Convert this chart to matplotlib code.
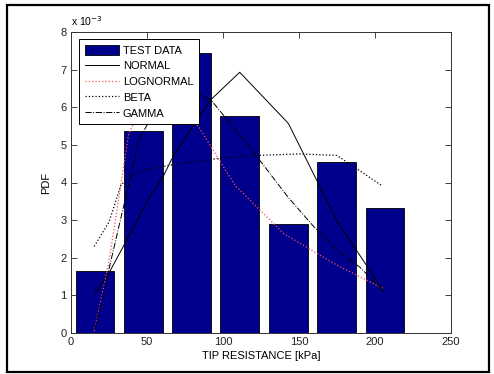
import matplotlib
matplotlib.use("Agg")
import matplotlib.pyplot as plt
from matplotlib.patches import Rectangle
from matplotlib.ticker import MultipleLocator

plt.rcParams['font.family'] = ['Liberation Sans', 'DejaVu Sans']

# Histogram (test data), values in units of 1e-3
bin_centers = [15.8, 47.5, 79.3, 111.1, 142.9, 174.7, 206.5]
test_pdf = [1.65, 5.37, 7.43, 5.78, 2.89, 4.55, 3.31]

# Fitted distributions (values in units of 1e-3)
normal_x = [15.8, 25, 34.4, 50, 61, 66, 80, 92, 111, 143, 175, 206]
normal_y = [1.05, 1.6, 2.3, 3.5, 4.19, 4.6, 5.5, 6.2, 6.93, 5.57, 2.98, 1.09]

lognormal_x = [15.3, 25, 33, 38, 50, 65, 84, 108, 140, 175, 205.5]
lognormal_y = [0.05, 1.9, 4.0, 5.3, 6.3, 6.4, 5.48, 3.92, 2.64, 1.8, 1.18]

beta_x = [15.3, 25, 33, 45, 65, 97, 123, 150, 175, 204]
beta_y = [2.3, 2.95, 3.95, 4.3, 4.46, 4.64, 4.72, 4.76, 4.72, 3.93]

gamma_x = [15.8, 26.3, 34, 45, 60, 75, 92, 120, 143, 159, 175, 190, 205.5]
gamma_y = [0.1, 1.93, 3.26, 5.18, 6.2, 6.5, 6.2, 4.81, 3.6, 2.86, 2.2, 1.75, 1.13]

FS = 8

fig = plt.figure(figsize=(4.94, 3.74), dpi=100)
fig.patches.append(Rectangle((7/494, 2/374), 482/494, 367/374, transform=fig.transFigure,
                             fill=False, edgecolor='black', linewidth=1.6))
ax = fig.add_axes([71/494, 41/374, 380/494, 301/374])

bars = ax.bar(bin_centers, test_pdf, width=25.5, color='#00008C', edgecolor='black',
              linewidth=0.6, zorder=2)
l1, = ax.plot(normal_x, normal_y, '-', color='black', lw=0.7, zorder=3)
l2, = ax.plot(lognormal_x, lognormal_y, ':', color='#FF5050', lw=0.9, zorder=3)
l3, = ax.plot(beta_x, beta_y, ':', color='black', lw=0.9, zorder=3)
l4, = ax.plot(gamma_x, gamma_y, '-.', color='black', lw=0.7, zorder=3)

ax.set_xlim(0, 250)
ax.set_ylim(0, 8)
ax.xaxis.set_major_locator(MultipleLocator(50))
ax.yaxis.set_major_locator(MultipleLocator(1))
ax.tick_params(direction='in', top=True, right=True, length=4, width=0.6,
               labelsize=FS, colors='#222222', pad=3)
for s in ax.spines.values():
    s.set_linewidth(0.7)
    s.set_color('#333333')

ax.set_xlabel('TIP RESISTANCE [kPa]', fontsize=FS, labelpad=3)
ax.set_ylabel('PDF', fontsize=FS, labelpad=7)
ax.text(0.0, 1.012, r'x 10$^{-3}$', transform=ax.transAxes, fontsize=FS - 0.5,
        ha='left', va='bottom')

leg = ax.legend([bars, l1, l2, l3, l4],
                ['TEST DATA', 'NORMAL', 'LOGNORMAL', 'BETA', 'GAMMA'],
                loc='upper left', bbox_to_anchor=(8/380, 1 - 7/301), fontsize=FS,
                frameon=True, fancybox=False, framealpha=1, edgecolor='black',
                borderpad=0.5, labelspacing=0.42, handlelength=3.1,
                handleheight=1.1, handletextpad=0.35, borderaxespad=0.0)
leg.get_frame().set_linewidth(0.7)

fig.savefig('out.png', dpi=100)
